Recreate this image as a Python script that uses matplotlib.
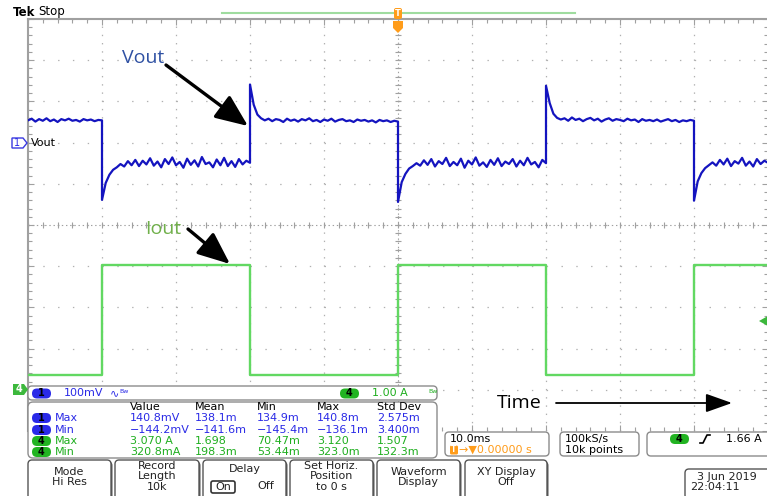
import matplotlib
matplotlib.use('Agg')
import matplotlib.pyplot as plt
import numpy as np
from matplotlib.patches import FancyBboxPatch, Polygon
from matplotlib.ticker import MultipleLocator

plt.rcParams['lines.scale_dashes'] = False
plt.rcParams['font.family'] = 'DejaVu Sans'

# scope settings
mv_per_div = 100.0     # ch1
amps_per_div = 1.0     # ch4
ch1_offset = 2.0       # divisions above centre
ch4_offset = -4.0
ms_per_div = 10.0

# Vout (ch1) in mV, one list per level, samples every 0.5 ms
seg_edges = [-50, -40, -20, 0, 20, 40, 50]
vout_segments = [
    [54, 58, 51, 57, 53, 59, 52, 56, 50, 57, 54, 58, 53, 55, 51, 57, 54, 56, 52, 55, 54],
    [-139, -98, -78, -66, -60, -52, -58, -45, -55, -42, -57, -44, -53, -38, -56, -46, -60, -40, -52, -36,
     -55, -47, -61, -39, -54, -43, -58, -35, -52, -48, -60, -41, -55, -37, -57, -45, -59, -40, -53, -44, -49],
    [141, 92, 68, 59, 54, 58, 52, 57, 55, 50, 58, 53, 56, 51, 57, 54, 59, 52, 55, 50,
     56, 53, 58, 51, 55, 57, 52, 54, 50, 56, 53, 55, 51, 54, 49, 55, 52, 54, 50, 53, 51],
    [-144, -96, -76, -63, -57, -50, -56, -43, -54, -40, -58, -45, -52, -37, -57, -47, -55, -39, -61, -44,
     -53, -36, -56, -48, -59, -42, -54, -38, -57, -46, -52, -40, -58, -44, -55, -37, -53, -47, -60, -42, -50],
    [138, 96, 70, 60, 56, 59, 53, 61, 55, 58, 52, 57, 60, 54, 58, 51, 56, 59, 53, 57,
     55, 52, 58, 54, 56, 50, 57, 53, 55, 52, 56, 51, 54, 57, 52, 55, 50, 54, 52, 55, 53],
    [-141, -94, -74, -62, -55, -48, -56, -42, -53, -39, -57, -45, -51, -37, -56, -46, -58, -40, -52, -44, -49],
]

# Iout (ch4) in A
iout_times = [-50, -40, -40, -20, -20, 0, 0, 20, 20, 40, 40, 50]
iout_amps = [0.36, 0.36, 3.03, 3.03, 0.36, 0.36, 3.03, 3.03, 0.36, 0.36, 3.03, 3.03]

# measurement table
meas_cols = ['Value', 'Mean', 'Min', 'Max', 'Std Dev']
meas_rows = [('1', 'Max'), ('1', 'Min'), ('4', 'Max'), ('4', 'Min')]
meas_values = [
    ['140.8mV', '138.1m', '134.9m', '140.8m', '2.575m'],
    ['\u2212144.2mV', '\u2212141.6m', '\u2212145.4m', '\u2212136.1m', '3.400m'],
    ['3.070 A', '1.698', '70.47m', '3.120', '1.507'],
    ['320.8mA', '198.3m', '53.44m', '323.0m', '132.3m'],
]

buttons = [
    (28, 111, ['Mode', 'Hi Res']),
    (115, 199, ['Record', 'Length', '10k']),
    (203, 286, None),
    (290, 373, ['Set Horiz.', 'Position', 'to 0 s']),
    (377, 460, ['Waveform', 'Display']),
    (465, 547, ['XY Display', 'Off']),
]

BLUE = '#1414bf'
TXT_BLUE = '#2a2ae6'
GREEN = '#62d862'
TXT_GREEN = '#1fae1f'
ORANGE = '#ff9c1a'
GRID = '#b0b0b0'

fig = plt.figure(figsize=(7.67, 4.96), dpi=100)

# graticule
ax = fig.add_axes([28 / 767, (496 - 431) / 496, 740 / 767, 412 / 496], zorder=1)
ax.set_xlim(-5 * ms_per_div, 5 * ms_per_div)
ax.set_ylim(-5, 5)
ax.set_xticks(np.arange(-50, 51, 10))
ax.set_yticks(np.arange(-5, 6, 1))
ax.xaxis.set_minor_locator(MultipleLocator(2))
ax.yaxis.set_minor_locator(MultipleLocator(0.2))
ax.tick_params(which='both', labelbottom=False, labelleft=False, direction='in',
               top=True, right=True, color='#a0a0a0', width=0.8)
ax.tick_params(which='major', length=4)
ax.tick_params(which='minor', length=3)
ax.xaxis.grid(True, color=GRID, lw=0.9, ls=(0, (1, 4.93)))
ax.yaxis.grid(True, color=GRID, lw=0.9, ls=(0, (1, 9.66)))
for s in ['bottom', 'right']:
    ax.spines[s].set_visible(False)
for s in ['left', 'top']:
    ax.spines[s].set_color('#a0a0a0')
    ax.spines[s].set_linewidth(1.5)

# centre cross with fine ticks
ax.axhline(0, color='#a0a0a0', lw=0.8, ls=(0, (1, 2)), zorder=1)
ax.axvline(0, color='#a0a0a0', lw=0.8, ls=(0, (1, 2)), zorder=1)
xt = np.arange(-50, 50.1, 2)
ax.plot(xt, np.zeros(len(xt)), ls='none', marker='|', ms=4, mew=0.8, color='#a0a0a0')
yt = np.arange(-5, 5.01, 0.2)
ax.plot(np.zeros(len(yt)), yt, ls='none', marker='_', ms=4, mew=0.8, color='#a0a0a0')

# waveforms
vt, vv = [], []
for i, seg in enumerate(vout_segments):
    vt.extend(np.linspace(seg_edges[i], seg_edges[i + 1], len(seg)))
    vv.extend(seg)
ax.plot(vt, np.array(vv) / mv_per_div + ch1_offset, color=BLUE, lw=1.6, zorder=4)
ax.plot(iout_times, np.array(iout_amps) / amps_per_div + ch4_offset, color=GREEN, lw=1.7, zorder=3)

# overlay in pixel units
ov = fig.add_axes([0, 0, 1, 1], zorder=5)
ov.set_xlim(0, 767)
ov.set_ylim(496, 0)
ov.axis('off')


def rbox(x, y, w, h, r=4, fc='white', ec='#8c8c8c', lw=1.0, z=2):
    ov.add_patch(FancyBboxPatch((x, y), w, h, boxstyle='round,pad=0,rounding_size=%g' % r,
                                fc=fc, ec=ec, lw=lw, zorder=z))


def txt(x, y, s, color='black', size=8, ha='left', **kw):
    ov.text(x, y, s, color=color, fontsize=size, ha=ha, va='center', zorder=6, **kw)


def pill(x, y, label, fc):
    rbox(x, y - 5, 19, 10, r=5, fc=fc, ec='none', z=5)
    txt(x + 9.5, y, label, size=7, ha='center', fontweight='bold')


# top bar
txt(13, 12, 'Tek', size=8.5, fontweight='bold')
txt(38, 12, 'Stop', size=8.5)
ov.plot([222, 575], [13, 13], color='#9fdc9f', lw=1.5)
rbox(394, 8, 8, 11, r=2, fc=ORANGE, ec='none', z=5)
txt(398, 13.5, 'T', color='white', size=6, ha='center', fontweight='bold')
ov.add_patch(Polygon([(393, 21), (403, 21), (403, 28), (398, 33), (393, 28)],
                     closed=True, fc=ORANGE, ec='none', zorder=5))

# channel markers on the left
ov.add_patch(Polygon([(12, 138), (23, 138), (27, 143), (23, 148), (12, 148)],
                     closed=True, fc='white', ec='#3a3ae0', lw=1, zorder=5))
txt(17.5, 143, '1', color=TXT_BLUE, size=7, ha='center')
txt(31, 143, 'Vout', size=8)
ov.add_patch(Polygon([(13, 384), (24, 384), (28, 389.5), (24, 395), (13, 395)],
                     closed=True, fc='#3cb83c', ec='none', zorder=5))
txt(18.5, 389.5, '4', color='white', size=7, ha='center', fontweight='bold')
ov.add_patch(Polygon([(759, 321), (767, 316.5), (767, 325.5)], closed=True,
                     fc='#3cb83c', ec='none', zorder=5))

# channel readout bar
rbox(28, 386, 409, 14)
pill(32, 393.5, '1', '#2a2ae8')
txt(64, 393.5, '100mV', color=TXT_BLUE)
txt(110, 393.5, '\u223f', color=TXT_BLUE, size=8)
txt(119, 391.5, 'Bw', color=TXT_BLUE, size=4.5)
pill(340, 393.5, '4', '#22b422')
txt(372, 393.5, '1.00 A', color=TXT_GREEN)
txt(428, 391.5, 'Bw', color=TXT_GREEN, size=4.5)

# measurement table
rbox(28, 402, 409, 56, r=5)
col_x = [130, 195, 257, 317, 377]
row_y = [418, 430, 441, 452]
for cx, name in zip(col_x, meas_cols):
    txt(cx, 407, name)
for (ch, kind), ry, vals in zip(meas_rows, row_y, meas_values):
    col = TXT_BLUE if ch == '1' else TXT_GREEN
    pill(32, ry, ch, '#2a2ae8' if ch == '1' else '#22b422')
    txt(55, ry, kind, color=col)
    for cx, v in zip(col_x, vals):
        txt(cx, ry, v, color=col)

# horizontal / acquisition / trigger readouts
rbox(445, 432, 104, 24)
txt(450, 439, '10.0ms')
rbox(450, 445.5, 8, 9, r=1.5, fc=ORANGE, ec='none', z=5)
txt(454, 450, 'T', color='white', size=5.5, ha='center', fontweight='bold')
txt(459, 450, '\u2192\u25bc0.00000 s', color=ORANGE)
rbox(560, 432, 79, 24)
txt(565, 439, '100kS/s')
txt(565, 450, '10k points')
rbox(647, 432, 125, 24)
pill(670, 439, '4', '#22b422')
ov.plot([700, 703, 707, 710], [443, 443, 435, 435], color='black', lw=1.2, zorder=6)
txt(726, 439, '1.66 A')

# soft buttons
for x0, x1, lines in buttons:
    rbox(x0 + 1.5, 461.5, x1 - x0, 40, r=4, fc='#555555', ec='none', z=2)
    rbox(x0, 460, x1 - x0, 40, r=4, fc='white', ec='#555555', lw=1.0, z=3)
    cx = (x0 + x1) / 2
    if lines is None:
        continue
    ys = [472, 482] if len(lines) == 2 else [466, 476, 487]
    for ly, s in zip(ys, lines):
        txt(cx, ly, s, color='#222222', ha='center')
txt(244.5, 469, 'Delay', color='#222222', ha='center')
rbox(211, 481, 24, 12, r=2, fc='white', ec='#333333', lw=1.2, z=4)
txt(223, 487, 'On', color='#222222', ha='center')
txt(266, 486, 'Off', color='#222222', ha='center')

rbox(686.5, 470.5, 90, 30, r=4, fc='#555555', ec='none', z=2)
rbox(685, 469, 90, 30, r=4, fc='white', ec='#555555', z=3)
txt(697, 477, '3 Jun 2019', color='#222222')
txt(690, 487, '22:04:11', color='#222222')

# annotations
ov.text(122, 58, 'Vout', color='#2f51a3', fontsize=14, family='Open Sans', va='center', zorder=7)
ov.annotate('', xy=(248, 126), xytext=(166, 65), zorder=7,
            arrowprops=dict(arrowstyle='-|>,head_length=0.9,head_width=0.38', lw=2.4,
                            color='black', mutation_scale=22, shrinkA=0, shrinkB=0))
ov.text(145, 229, 'Iout', color='#70b04a', fontsize=14, family='Open Sans', va='center', zorder=7)
ov.annotate('', xy=(230, 264), xytext=(188, 229), zorder=7,
            arrowprops=dict(arrowstyle='-|>,head_length=0.9,head_width=0.38', lw=2.4,
                            color='black', mutation_scale=22, shrinkA=0, shrinkB=0))
ov.text(497, 403, 'Time', color='black', fontsize=14, family='Open Sans', va='center', zorder=7)
ov.annotate('', xy=(732, 403), xytext=(556, 403), zorder=7,
            arrowprops=dict(arrowstyle='-|>,head_length=0.9,head_width=0.32', lw=1.3,
                            color='black', mutation_scale=18, shrinkA=0, shrinkB=0))

fig.savefig('out.png', dpi=100, facecolor='white')
